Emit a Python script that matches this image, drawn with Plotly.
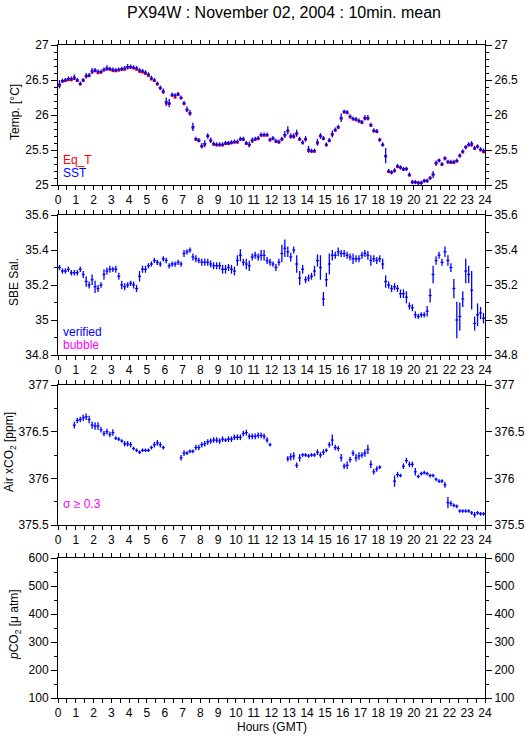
import numpy as np
import plotly.graph_objects as go

# ---------------- data (10-minute means, 144 per day) ----------------
n_points = 144
hours = (np.arange(n_points) + 0.5) / 6.0

sst = [26.44, 26.49, 26.50, 26.52, 26.52, 26.54, 26.50, 26.45, 26.50, 26.56, 26.57, 26.63,
       26.64, 26.62, 26.62, 26.65, 26.67, 26.66, 26.65, 26.64, 26.65, 26.66, 26.67, 26.69,
       26.69, 26.68, 26.67, 26.64, 26.63, 26.61, 26.58, 26.53, 26.50, 26.45, 26.39, 26.34,
       26.19, 26.17, 26.29, 26.28, 26.30, 26.25, 26.17, 26.08, 26.03, 25.83, 25.66, 25.64,
       25.56, 25.59, 25.70, 25.64, 25.59, 25.58, 25.58, 25.58, 25.60, 25.60, 25.61, 25.62,
       25.62, 25.66, 25.66, 25.60, 25.58, 25.64, 25.66, 25.67, 25.72, 25.72,
       25.72, 25.65, 25.67, 25.63, 25.62, 25.66, 25.72, 25.78, 25.70, 25.70, 25.74, 25.66,
       25.61, 25.66, 25.51, 25.49, 25.49, 25.61, 25.70, 25.67, 25.58, 25.64, 25.73, 25.79,
       25.83, 25.96, 26.05, 26.04, 25.98, 25.95, 25.94, 25.92, 25.90, 25.96, 25.96, 25.86,
       25.78, 25.77, 25.65, 25.58, 25.42, 25.20, 25.18, 25.21, 25.27, 25.25, 25.23, 25.23,
       25.15, 25.04, 25.04, 25.03, 25.03, 25.06, 25.06, 25.10, 25.15, 25.31, 25.35, 25.30,
       25.38, 25.33, 25.33, 25.33, 25.35, 25.42, 25.48, 25.54, 25.58, 25.59, 25.53, 25.55, 25.51, 25.49]

sst_err = [.06, .03, .03, .03, .03, .04, .03, .03, .03, .04, .03, .04,
           .03, .03, .03, .03, .04, .03, .03, .03, .03, .03, .03, .04,
           .03, .03, .03, .03, .03, .03, .03, .03, .03, .03, .03, .04,
           .06, .06, .03, .03, .03, .03, .03, .04, .04, .06, .03, .03,
           .04, .05, .04, .04, .03, .03, .03, .03, .03, .03, .03, .03,
           .03, .03, .03, .03, .04, .04, .03, .03, .03, .03,
           .03, .03, .03, .03, .03, .03, .05, .06, .04, .04, .05, .03,
           .03, .04, .05, .03, .03, .05, .04, .03, .03, .03, .05, .03,
           .03, .06, .03, .03, .03, .03, .03, .03, .03, .04, .04, .03,
           .03, .03, .03, .03, .11, .03, .03, .03, .03, .03, .03, .03,
           .03, .03, .03, .03, .03, .03, .03, .03, .05, .04, .03, .03,
           .03, .03, .03, .03, .03, .03, .03, .03, .03, .04, .03, .03, .03, .03]

eq_t = [26.42, 26.48, 26.49, 26.50, 26.50, 26.52, 26.49, 26.44, 26.49, 26.55, 26.56, 26.61,
        26.63, 26.60, 26.61, 26.64, 26.66, 26.65, 26.63, 26.63, 26.64, 26.65, 26.65, 26.68,
        26.68, 26.67, 26.65, 26.62, 26.61, 26.59, 26.56, 26.51, 26.49, 26.44, 26.38, 26.33,
        26.17, 26.16, 26.28, 26.25, 26.29, 26.24, 26.16, 26.07, 26.02, 25.82, 25.65, 25.63,
        25.55, 25.58, 25.70, 25.63, 25.58, 25.57, 25.57, 25.57, 25.59, 25.59, 25.60, 25.61,
        25.61, 25.65, 25.65, 25.59, 25.57, 25.63, 25.65, 25.66, 25.71, 25.71,
        25.71, 25.64, 25.66, 25.62, 25.61, 25.65, 25.71, 25.77, 25.69, 25.69, 25.73, 25.65,
        25.60, 25.65, 25.49, 25.48, 25.48, 25.60, 25.70, 25.66, 25.57, 25.63, 25.72, 25.78,
        25.82, 25.95, 26.04, 26.03, 25.97, 25.94, 25.93, 25.91, 25.89, 25.95, 25.95, 25.85,
        25.77, 25.76, 25.64, 25.57, 25.41, 25.19, 25.18, 25.20, 25.26, 25.25, 25.22, 25.23,
        25.14, 25.04, 25.04, 25.03, 25.03, 25.06, 25.06, 25.10, 25.15, 25.31, 25.35, 25.29,
        25.38, 25.33, 25.32, 25.32, 25.34, 25.42, 25.47, 25.54, 25.57, 25.57, 25.52, 25.55, 25.50, 25.47]

salinity = [35.30, 35.28, 35.28, 35.29, 35.27, 35.27, 35.27, 35.29, 35.26, 35.22, 35.20, 35.23,
            35.19, 35.18, 35.20, 35.26, 35.28, 35.29, 35.29, 35.29, 35.25, 35.20, 35.19, 35.20,
            35.21, 35.20, 35.18, 35.25, 35.29, 35.29, 35.31, 35.32, 35.34, 35.33, 35.32, 35.35,
            35.34, 35.31, 35.32, 35.32, 35.33, 35.32, 35.38, 35.39, 35.40, 35.36, 35.35, 35.34,
            35.33, 35.33, 35.33, 35.32, 35.31, 35.31, 35.31, 35.29, 35.29, 35.30, 35.29, 35.28,
            35.34, 35.37, 35.33, 35.32, 35.31, 35.36, 35.37, 35.36, 35.37,
            35.37, 35.34, 35.33, 35.32, 35.30, 35.33, 35.38, 35.41, 35.39, 35.36, 35.40, 35.32,
            35.24, 35.29, 35.23, 35.24, 35.25, 35.28, 35.34, 35.30, 35.12, 35.23, 35.32, 35.37,
            35.37, 35.39, 35.38, 35.38, 35.37, 35.36, 35.35, 35.35, 35.35, 35.37, 35.38, 35.37,
            35.34, 35.35, 35.34, 35.35, 35.32, 35.22, 35.20, 35.18, 35.19, 35.18, 35.15, 35.15,
            35.13, 35.08, 35.07, 35.03, 35.02, 35.03, 35.03, 35.05, 35.14, 35.26, 35.34, 35.37,
            35.33, 35.39, 35.34, 35.30, 35.18, 35.00, 35.02, 35.12, 35.28, 35.26, 35.17, 34.98,
            35.03, 35.04, 35.01]

sal_err = [.015, .015, .015, .015, .015, .015, .015, .015, .02, .03, .02, .03,
           .035, .02, .015, .03, .02, .02, .015, .02, .02, .025, .02, .015,
           .015, .02, .02, .03, .02, .02, .015, .015, .015, .015, .015, .015,
           .015, .015, .015, .015, .015, .015, .02, .015, .015, .02, .02, .015,
           .02, .02, .02, .02, .02, .02, .02, .025, .025, .02, .025, .025,
           .03, .035, .02, .03, .03, .02, .02, .02, .03,
           .03, .02, .02, .015, .02, .02, .05, .05, .03, .025, .02, .05,
           .04, .025, .02, .02, .02, .03, .035, .07, .04, .04, .06, .03,
           .02, .025, .02, .02, .02, .02, .03, .02, .02, .02, .02, .025,
           .03, .02, .02, .02, .03, .035, .02, .02, .02, .02, .025, .025,
           .035, .02, .02, .02, .015, .015, .015, .03, .04, .05, .025, .02,
           .02, .03, .03, .025, .055, .105, .08, .045, .07, .05, .11, .04,
           .065, .035, .03]

air_xco2 = [None, None, None, None, None,
            376.57, 376.62, 376.63, 376.65, 376.66, 376.63, 376.57, 376.56, 376.56, 376.52, 376.48,
            376.50, 376.47, 376.49, 376.43, 376.42, 376.40, 376.37, 376.37, 376.36, 376.32, 376.30,
            376.28, 376.30, 376.30, 376.30, 376.33, 376.36, 376.38, 376.36, 376.33,
            None, None, None, None, None,
            376.22, 376.27, 376.27, 376.29, 376.29, 376.33, 376.33, 376.36, 376.37, 376.39, 376.40,
            376.41, 376.41, 376.40, 376.42, 376.41, 376.42, 376.42, 376.44, 376.44, 376.44, 376.48,
            376.49, 376.45, 376.45, 376.45, 376.46, 376.46, 376.45, 376.41, 376.36,
            None, None, None, None, None,
            376.21, 376.23, 376.24, 376.14, 376.22, 376.25, 376.25, 376.24, 376.25, 376.25, 376.28,
            376.25, 376.28, 376.30, 376.36, 376.41, 376.33, 376.32, 376.22, 376.13, 376.14, 376.20,
            376.27, 376.22, 376.24, 376.25, 376.27, 376.31, 376.15, 376.07, 376.10, 376.12,
            None, None, None, None,
            375.97, 376.04, 376.03, 376.13, 376.19, 376.15, 376.15, 376.07, 376.02, 376.05, 376.06,
            376.05, 376.03, 376.03, 375.99, 375.97, 375.97, 375.93, 375.74, 375.73, 375.71, 375.70,
            375.65, 375.65, 375.65, 375.65, 375.63, 375.61, 375.63, 375.62, 375.62]

air_err = [0, 0, 0, 0, 0,
           .035, .03, .03, .035, .035, .04, .04, .04, .04, .03, .03,
           .03, .03, .035, .02, .02, .02, .03, .03, .03, .02, .02,
           .02, .02, .02, .02, .02, .03, .03, .03, .02,
           0, 0, 0, 0, 0,
           .03, .03, .02, .02, .02, .03, .03, .03, .03, .03, .03,
           .03, .03, .03, .03, .02, .03, .03, .03, .03, .03, .03,
           .03, .03, .03, .03, .03, .03, .03, .03, .02,
           0, 0, 0, 0, 0,
           .03, .04, .04, .03, .04, .02, .02, .02, .02, .02, .03,
           .03, .03, .02, .03, .06, .03, .03, .04, .03, .04, .03,
           .03, .04, .04, .03, .04, .05, .04, .03, .03, .02,
           0, 0, 0, 0,
           .06, .03, .02, .03, .03, .03, .03, .04, .02, .02, .02,
           .02, .02, .02, .02, .02, .02, .03, .06, .03, .02, .02,
           .02, .02, .02, .02, .02, .03, .02, .02, .02]

x_ticks = list(range(0, 25))

# ---------------- layout geometry ----------------
W, H = 529, 739
ML, MR, MT, MB = 58, 44, 45, 41
panels = [(45, 185), (215, 355), (385, 525), (558, 698)]  # pixel top/bottom
title_x = [15, 14, 10, 15]  # rotated y-title centres (px)
plot_h = H - MT - MB
plot_w = W - ML - MR


def ydom(top, bot):
    return [(H - MB - bot) / plot_h, (H - MB - top) / plot_h]


def py(pix):
    return (H - MB - pix) / plot_h


def px(pix):
    return (pix - ML) / plot_w


FONT = "Liberation Sans"
tickfont = dict(family=FONT, size=12, color="black")
xtickfont = dict(family=FONT, size=12, color="black")

y_specs = [
    dict(range=[25, 27], dtick=0.5, minor=0.1, title="Temp. [°C]"),
    dict(range=[34.8, 35.6], dtick=0.2, minor=0.1, title="SBE Sal."),
    dict(range=[375.5, 377], dtick=0.5, minor=0.25, title="Air xCO<sub>2</sub> [ppm]"),
    dict(range=[100, 600], dtick=100, minor=50, title="<i>p</i>CO<sub>2</sub> [μ atm]"),
]

fig = go.Figure()

BLUE = "#0000ff"
RED = "#ff0000"


def cross_trace(x, y, err, color, xa, ya, thick=1.3, xthick=None):
    return go.Scatter(
        x=x, y=y, mode="markers",
        marker=dict(size=1, color=color, opacity=0),
        error_x=dict(type="constant", value=1 / 12, width=0, thickness=xthick or thick, color=color),
        error_y=dict(type="data", array=err, width=0, thickness=thick, color=color),
        xaxis=xa, yaxis=ya, showlegend=False, hoverinfo="skip",
    )


fig.add_trace(cross_trace(hours, eq_t, [0.0] * n_points, RED, "x", "y", thick=1.3, xthick=2.5))
fig.add_trace(cross_trace(hours, sst, sst_err, BLUE, "x", "y"))
fig.add_trace(cross_trace(hours, salinity, sal_err, BLUE, "x2", "y2"))
fig.add_trace(cross_trace(hours, air_xco2, air_err, BLUE, "x3", "y3"))
fig.add_trace(go.Scatter(x=[None], y=[None], xaxis="x4", yaxis="y4", showlegend=False, hoverinfo="skip"))
for i in range(1, 5):
    fig.add_trace(go.Scatter(x=[None], y=[None], xaxis="x" if i == 1 else f"x{i}", yaxis=f"y{i + 4}",
                             showlegend=False, hoverinfo="skip"))

layout = dict(
    width=W, height=H,
    margin=dict(l=ML, r=MR, t=MT, b=MB, pad=0, autoexpand=False),
    paper_bgcolor="white", plot_bgcolor="white",
    font=dict(family=FONT, size=12, color="black"),
    showlegend=False,
)

annotations = [
    dict(text="PX94W : November 02, 2004 : 10min. mean", x=px(284), y=py(13),
         font=dict(family=FONT, size=16, color="black"), xanchor="center", yanchor="middle"),
]

for i, ((top, bot), spec, tx) in enumerate(zip(panels, y_specs, title_x), start=1):
    xs = "" if i == 1 else str(i)
    ys = "" if i == 1 else str(i)
    dom = ydom(top, bot)
    xa = dict(
        domain=[0, 1], anchor=f"y{ys}", range=[0, 24], tickvals=x_ticks,
        ticks="outside", ticklen=4, tickwidth=1, tickcolor="black",
        showline=True, linecolor="black", linewidth=1, mirror="ticks",
        showgrid=False, zeroline=False, tickfont=xtickfont, automargin=False,
        minor=dict(dtick=0.5, tick0=0, ticks="outside", ticklen=4, tickwidth=1, tickcolor="black", showgrid=False),
        fixedrange=True,
    )
    layout[f"xaxis{xs}"] = xa
    common_y = dict(
        domain=dom, range=spec["range"], dtick=spec["dtick"], tick0=spec["range"][0],
        ticks="outside", ticklen=6, tickwidth=1, tickcolor="black",
        showgrid=False, zeroline=False, tickfont=tickfont, automargin=False,
        minor=dict(dtick=spec["minor"], tick0=spec["range"][0], ticks="outside", ticklen=3,
                   tickwidth=1, tickcolor="black", showgrid=False),
        fixedrange=True,
    )
    layout[f"yaxis{ys}"] = dict(
        common_y, anchor=f"x{xs}", side="left",
        showline=True, linecolor="black", linewidth=1, mirror=True,
    )
    layout[f"yaxis{i + 4}"] = dict(
        common_y, anchor=f"x{xs}", overlaying=f"y{ys}", side="right",
        showline=False,
    )
    # rotated y-axis title
    annotations.append(dict(text=spec["title"], x=px(tx), y=py((top + bot) / 2 - 3), textangle=-90,
                            font=dict(family=FONT, size=12, color="black"),
                            xanchor="center", yanchor="middle"))

annotations.append(dict(text="Hours (GMT)", x=px(271.5), y=py(727),
                        font=dict(family=FONT, size=12, color="black"), xanchor="center", yanchor="middle"))

legend_notes = [
    dict(text="Eq_T", x=px(61), y=py(160), font=dict(color=RED)),
    dict(text="SST", x=px(61), y=py(173), font=dict(color=BLUE)),
    dict(text="verified", x=px(61), y=py(332), font=dict(color=BLUE)),
    dict(text="bubble", x=px(61), y=py(345), font=dict(color="#ff00ff")),
    dict(text="σ ≥ 0.3", x=px(61), y=py(504), font=dict(color="#ff00ff")),
]
for a in legend_notes:
    a.update(xanchor="left", yanchor="middle")
    a["font"].update(family=FONT, size=12)
annotations += legend_notes
for a in annotations:
    a.update(xref="paper", yref="paper", showarrow=False)
layout["annotations"] = annotations

fig.update_layout(**layout)
fig.write_html("out.html", config={"displayModeBar": False},
               post_script="document.body.style.margin='0px';document.body.style.overflow='hidden';")
